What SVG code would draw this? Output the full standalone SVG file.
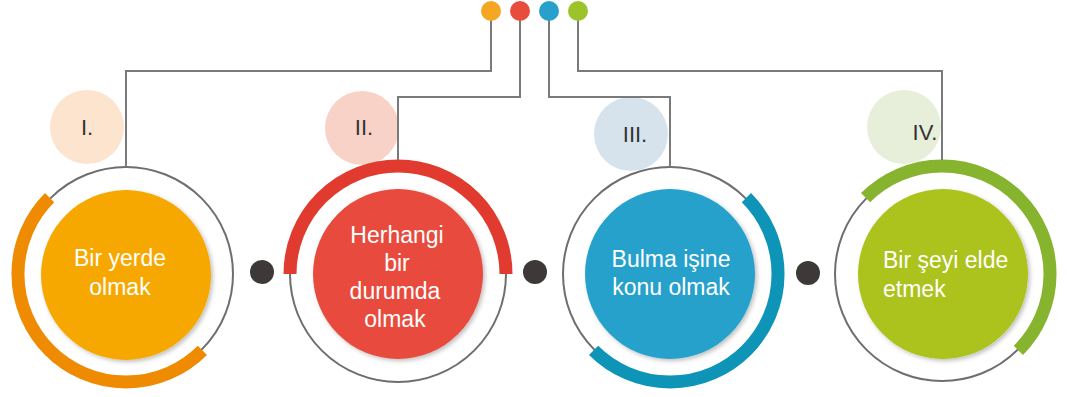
<svg xmlns="http://www.w3.org/2000/svg" width="1067" height="397" viewBox="0 0 1067 397">
<defs>
<filter id="sh" x="-20%" y="-20%" width="140%" height="140%">
<feDropShadow dx="2" dy="2" stdDeviation="2" flood-color="#000" flood-opacity="0.25"/>
</filter>
</defs>
<style>
.ring{fill:none;stroke:#6e6e6e;stroke-width:2}
.arc{fill:none;stroke-width:13;stroke-linecap:butt}
.main{font-family:"Liberation Sans",Arial,sans-serif;font-size:23px;fill:#fff;text-anchor:middle}
.lbl{font-family:"Liberation Sans",Arial,sans-serif;font-size:22px;fill:#333;text-anchor:middle}
.conn{fill:none;stroke:#7a7a7a;stroke-width:2}
.sep{fill:#3d3939}
</style>
<rect width="1067" height="397" fill="#fff"/>

<g id="node1">
<circle cx="87" cy="127" r="37" fill="#FCE4CE"/>
<text class="lbl" x="87" y="135">I.</text>
<circle class="ring" cx="126" cy="274" r="107"/>
<path class="arc" stroke="#EE8B00" d="M202.4 350.4 A108 108 0 0 1 49.6 197.6"/>
<circle cx="126" cy="275" r="85" fill="#F6A800" filter="url(#sh)"/>
<text class="main" x="120" y="266">Bir yerde</text>
<text class="main" x="120" y="295">olmak</text>
</g>

<g id="node2">
<circle cx="362" cy="128" r="37" fill="#F8D2C6"/>
<text class="lbl" x="364" y="135">II.</text>
<circle class="ring" cx="398" cy="274" r="108"/>
<path class="arc" stroke="#E13B2F" d="M290 274 A108 108 0 0 1 506 274"/>
<circle cx="398" cy="274" r="85" fill="#E84C3D" filter="url(#sh)"/>
<text class="main" x="397" y="243">Herhangi</text>
<text class="main" x="397" y="271">bir</text>
<text class="main" x="395" y="299">durumda</text>
<text class="main" x="395" y="327">olmak</text>
</g>

<g id="node3">
<circle cx="631" cy="134" r="37" fill="#D6E3ED"/>
<text class="lbl" x="635" y="142">III.</text>
<circle class="ring" cx="670" cy="274" r="107"/>
<path class="arc" stroke="#0E94B7" d="M746.4 197.6 A108 108 0 0 1 593.6 350.4"/>
<circle cx="670" cy="274" r="85" fill="#27A1CC" filter="url(#sh)"/>
<text class="main" x="671" y="267">Bulma işine</text>
<text class="main" x="671" y="295">konu olmak</text>
</g>

<g id="node4">
<circle cx="904" cy="127" r="37" fill="#E7EED9"/>
<text class="lbl" x="925" y="140">IV.</text>
<circle class="ring" cx="942" cy="274" r="107"/>
<path class="arc" stroke="#86B42E" d="M865.6 197.6 A108 108 0 0 1 1018.4 350.4"/>
<circle cx="943" cy="274" r="85" fill="#ABC31A" filter="url(#sh)"/>
<text class="main" x="883" y="268" style="text-anchor:start">Bir şeyi elde</text>
<text class="main" x="883" y="297" style="text-anchor:start">etmek</text>
</g>

<g id="separators">
<circle class="sep" cx="262" cy="272" r="12"/>
<circle class="sep" cx="535" cy="272" r="12"/>
<circle class="sep" cx="808" cy="273" r="12"/>
</g>

<g id="connectors">
<path class="conn" d="M491 20 V71 H126 V167"/>
<path class="conn" d="M520 20 V97 H398 V160"/>
<path class="conn" d="M549 20 V97 H670 V167"/>
<path class="conn" d="M578 20 V71 H942 V160"/>
</g>

<g id="dots">
<circle cx="491" cy="11" r="10" fill="#F5A623"/>
<circle cx="520" cy="11" r="10" fill="#E84C3D"/>
<circle cx="549" cy="11" r="10" fill="#27A1CC"/>
<circle cx="578" cy="11" r="10" fill="#9CC42A"/>
</g>
</svg>
